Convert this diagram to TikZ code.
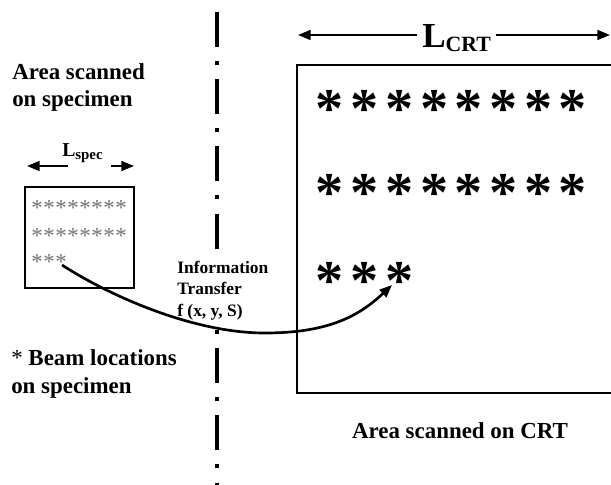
\documentclass[tikz,border=0pt]{standalone}
\usepackage{fontspec}
\setmainfont{Liberation Serif}
\usetikzlibrary{arrows.meta,calc}

\tikzset{
  bigtext/.style={font=\bfseries\fontsize{16.3}{19.8}\selectfont, inner sep=0pt, align=left},
  infotext/.style={font=\bfseries\fontsize{12.4}{15.2}\selectfont, inner sep=0pt, align=left},
  frame/.style={line width=1.4pt},
  dimarrow/.style={line width=1.5pt, -{Triangle[length=9pt,width=7pt]}},
  transfer/.style={line width=1.9pt, -{Triangle[length=9pt,width=7pt]}},
  divider/.style={line width=3.5pt, dash pattern=on 24.8pt off 9.9pt on 2.8pt off 10.3pt},
  beamstar/.style={font=\fontsize{16.3}{16.3}\selectfont, text=black!55, inner sep=0pt, anchor=base},
  crtstar/.style={font=\bfseries\fontsize{40}{40}\selectfont, inner sep=0pt, anchor=base}
}

\begin{document}
\begin{tikzpicture}[x=0.025cm, y=-0.025cm]
  \useasboundingbox (0,0) rectangle (611,485);

  % split line between specimen and CRT
  \coordinate (divtop) at (217,12);
  \coordinate (divbot) at (217,487);
  \draw[divider] (divtop) -- (divbot);

  % specimen side (base = last line)
  \node[bigtext, anchor=base west] (areaspec) at (12,107) {Area scanned\\on specimen};
  \node[bigtext, anchor=base west] (beamnote) at (11,393) {{\mdseries *} Beam locations\\on specimen};
  \draw[frame] (25,187) rectangle (134,288);
  \node[font=\bfseries, inner sep=0pt, anchor=base west] (lspec) at (62,157)
    {\fontsize{14}{14}\selectfont L\raisebox{-1.5pt}{\fontsize{10.6}{10.6}\selectfont spec}};
  \coordinate (specL) at (27,166);
  \coordinate (specR) at (134,166);
  \draw[dimarrow] ($(lspec.west |- specL)+(6,0)$) -- (specL);
  \draw[dimarrow] ($(lspec.east |- specR)+(8,0)$) -- (specR);
  \foreach \r/\y/\n in {1/216/8, 2/243/8, 3/269/3}
    \foreach \i in {1,...,\n}
      \node[beamstar] (s-\r-\i) at ({37+12*(\i-1)},\y) {*};

  % CRT side
  \draw[frame] (614,65) -- (297,65) -- (297,393) -- (614,393);
  \node[bigtext, anchor=base] (areacrt) at (460,438) {Area scanned on CRT};
  \node[font=\bfseries, inner sep=0pt, anchor=base west] (lcrt) at (422,48)
    {\fontsize{25}{25}\selectfont L\raisebox{-2.8pt}{\fontsize{15.5}{15.5}\selectfont CRT}};
  \coordinate (crtL) at (298,35);
  \coordinate (crtR) at (610,35);
  \draw[dimarrow] ($(lcrt.west |- crtL)+(-5,0)$) -- (crtL);
  \draw[dimarrow] ($(lcrt.east |- crtR)+(5,0)$) -- (crtR);
  \foreach \r/\y/\n in {1/128/8, 2/211/8, 3/299/3}
    \foreach \i in {1,...,\n}
      \node[crtstar] (c-\r-\i) at ({330+34.7*(\i-1)},\y) {*};

  % information transfer
  \node[infotext, fill=white, anchor=base west] (info) at (177,316) {Information\\Transfer\\f (x, y, S)};
  \coordinate (src) at (62,265);
  \coordinate (low) at (265,333);
  \coordinate (dst) at (392,285);
  \draw[transfer] (src) .. controls (105,293) and (190,333) .. (low)
    .. controls (330,333) and (360,315) .. (dst);
\end{tikzpicture}
\end{document}
